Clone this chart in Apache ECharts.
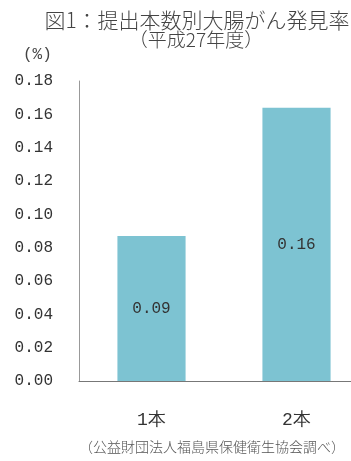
<!DOCTYPE html>
<html>
<head>
<meta charset="utf-8">
<script src="https://cdn.jsdelivr.net/npm/echarts@6/dist/echarts.min.js"></script>
<style>
  html, body { margin: 0; padding: 0; background: #fff; }
  #chart { width: 351px; height: 461px; }
</style>
</head>
<body>
<div id="chart"></div>
<script>
// 提出本数別大腸がん発見率（平成27年度）
const categories = ["1本", "2本"];
const rates = [0.087, 0.164];
const yTicks = { min: 0, max: 0.18, interval: 0.02 };

const chart = echarts.init(document.getElementById("chart"));
const cjk = "'Noto Sans CJK JP', sans-serif";
const mono = "'Liberation Mono', monospace";

chart.setOption({
  backgroundColor: "#fff",
  animation: false,
  title: [
    {
      text: "図1：提出本数別大腸がん発見率",
      left: 197, top: 10, padding: 0, textAlign: "center",
      textStyle: { fontFamily: cjk, fontSize: 21, fontWeight: 300, color: "#444" },
    },
    {
      text: "（平成27年度）",
      left: 196, top: 30, padding: 0, textAlign: "center",
      textStyle: { fontFamily: cjk, fontSize: 19, fontWeight: 300, color: "#444" },
    },
    {
      text: "(%)",
      left: 23, top: 47, padding: 0,
      textStyle: { fontFamily: mono, fontSize: 16, fontWeight: "normal", color: "#444" },
    },
    {
      text: "（公益財団法人福島県保健衛生協会調べ）",
      left: 212, top: 440, padding: 0, textAlign: "center",
      textStyle: { fontFamily: cjk, fontSize: 14, fontWeight: 300, color: "#555" },
    },
  ],
  grid: { left: 79, width: 290, top: 81, bottom: 80, outerBoundsMode: "none" },
  xAxis: {
    type: "category",
    data: categories,
    axisLine: { lineStyle: { color: "#777", width: 1 } },
    axisTick: { show: false },
    axisLabel: { fontFamily: mono, fontSize: 18, color: "#333", margin: 30 },
  },
  yAxis: {
    type: "value",
    min: yTicks.min, max: yTicks.max, interval: yTicks.interval,
    axisLine: { show: true, lineStyle: { color: "#999", width: 1 } },
    axisTick: { show: false },
    splitLine: { show: false },
    axisLabel: {
      fontFamily: mono, fontSize: 16, color: "#333", margin: 26,
      formatter: (v) => v.toFixed(2),
    },
  },
  series: [
    {
      type: "bar",
      data: rates,
      barWidth: "47%",
      itemStyle: { color: "#7dc3d2" },
      label: {
        show: true,
        position: "inside",
        fontFamily: mono, fontSize: 16, color: "#333",
        formatter: (p) => p.value.toFixed(2),
      },
    },
  ],
});
</script>
</body>
</html>
